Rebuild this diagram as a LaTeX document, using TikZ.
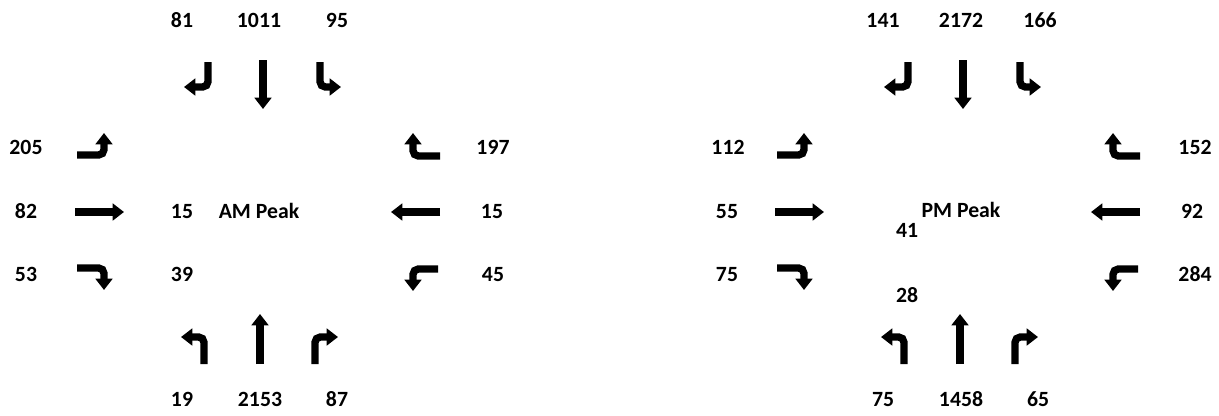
\documentclass[tikz,border=0pt]{standalone}
\usepackage{fontspec}
\setmainfont{Carlito}
\usetikzlibrary{arrows.meta}
\tikzset{
  mv/.style={line width=5.5pt, -{Triangle[width=12.5pt,length=8.5pt]}, rounded corners=4pt},
  lbl/.style={font=\fontsize{16.3}{19}\selectfont\bfseries, inner sep=0pt, text height=10.3pt, text depth=0pt},
}
\newcommand\movearrows{%
  % southbound
  \draw[mv] (208,62) -- (208,87) -- (184,87);
  \draw[mv] (263,60) -- (263,109);
  \draw[mv] (320,62) -- (320,87) -- (341,87);
  % eastbound
  \draw[mv] (77,155) -- (104,155) -- (104,133);
  \draw[mv] (75,212) -- (124,212);
  \draw[mv] (77,268) -- (104,268) -- (104,290);
  % westbound
  \draw[mv] (440,156) -- (413,156) -- (413,133);
  \draw[mv] (440,212) -- (391,212);
  \draw[mv] (438,269) -- (413,269) -- (413,291);
  % northbound
  \draw[mv] (204,364) -- (204,337) -- (181,337);
  \draw[mv] (260,364) -- (260,314);
  \draw[mv] (315,364) -- (315,337) -- (338,337);
}
\begin{document}
\begin{tikzpicture}[x=0.75pt,y=-0.75pt]
\fill[white] (0,0) rectangle (1219,415);
\useasboundingbox (0,0) rectangle (1219,415);
% AM
\begin{scope}
\movearrows
\node[lbl] (am81) at (182,21) {81};
\node[lbl] (am1011) at (259,21) {1011};
\node[lbl] (am95) at (337,21) {95};
\node[lbl] (am205) at (26,148) {205};
\node[lbl] (am82) at (26,212) {82};
\node[lbl] (am53) at (26,275) {53};
\node[lbl] (am15a) at (182,212) {15};
\node[lbl] (am39) at (182,275) {39};
\node[lbl] (amtitle) at (259,212) {AM Peak};
\node[lbl] (am197) at (493,148) {197};
\node[lbl] (am15b) at (492,212) {15};
\node[lbl] (am45) at (493,275) {45};
\node[lbl] (am19) at (182,400) {19};
\node[lbl] (am2153) at (260,400) {2153};
\node[lbl] (am87) at (337,400) {87};
\end{scope}
% PM
\begin{scope}[shift={(700,0)}]
\movearrows
\end{scope}
\node[lbl] (pm141) at (883,21) {141};
\node[lbl] (pm2172) at (961,21) {2172};
\node[lbl] (pm166) at (1040,21) {166};
\node[lbl] (pm112) at (728,148) {112};
\node[lbl] (pm55) at (727,212) {55};
\node[lbl] (pm75a) at (727,275) {75};
\node[lbl] (pmtitle) at (961,211) {PM Peak};
\node[lbl] (pm41) at (907,231) {41};
\node[lbl] (pm28) at (907,296) {28};
\node[lbl] (pm152) at (1195,148) {152};
\node[lbl] (pm92) at (1192,212) {92};
\node[lbl] (pm284) at (1195,275) {284};
\node[lbl] (pm75b) at (883,400) {75};
\node[lbl] (pm1458) at (961,400) {1458};
\node[lbl] (pm65) at (1038,400) {65};
\end{tikzpicture}
\end{document}
